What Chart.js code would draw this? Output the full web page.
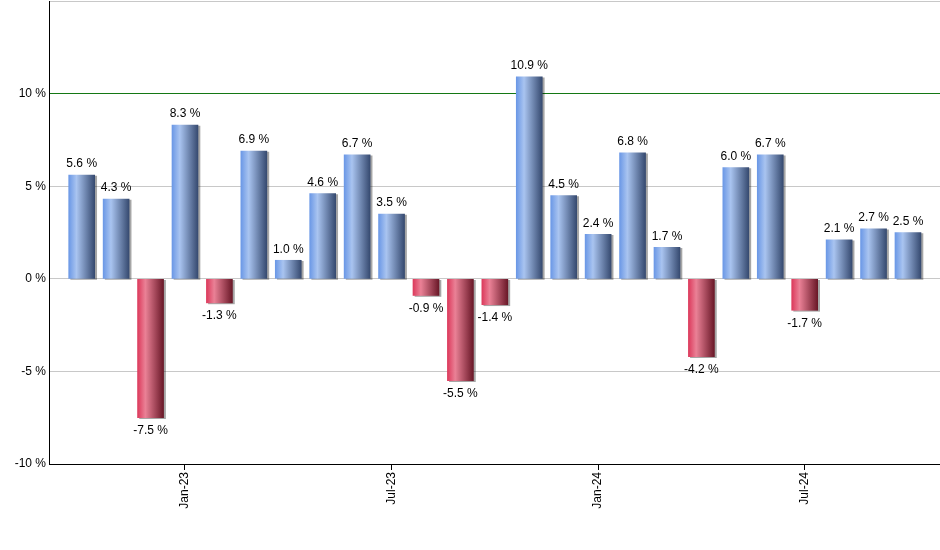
<!DOCTYPE html>
<html>
<head>
<meta charset="utf-8">
<script src="https://cdn.jsdelivr.net/npm/chart.js@4/dist/chart.umd.min.js"></script>
<style>
  html, body { margin: 0; padding: 0; background: #fff; }
  #wrap { width: 940px; height: 550px; }
</style>
</head>
<body>
<div id="wrap"><canvas id="myReturnChart"></canvas></div>
<script>
const months = [
  "Oct-22", "Nov-22", "Dec-22", "Jan-23", "Feb-23", "Mar-23", "Apr-23",
  "May-23", "Jun-23", "Jul-23", "Aug-23", "Sep-23", "Oct-23", "Nov-23",
  "Dec-23", "Jan-24", "Feb-24", "Mar-24", "Apr-24", "May-24", "Jun-24",
  "Jul-24", "Aug-24", "Sep-24", "Oct-24",
];
const returns = [
  5.6, 4.3, -7.5, 8.3, -1.3, 6.9, 1.0, 4.6, 6.7, 3.5, -0.9, -5.5, -1.4,
  10.9, 4.5, 2.4, 6.8, 1.7, -4.2, 6.0, 6.7, -1.7, 2.1, 2.7, 2.5,
];
const tickLabels = ["Jan-23", "Jul-23", "Jan-24", "Jul-24"];
const yTicks = [-10, -5, 0, 5, 10, 15];

const FONT = "Arial, 'Liberation Sans', sans-serif";
const BAR_W = 26;

function barGradient(context) {
  const chart = context.chart;
  const xScale = chart.scales.x;
  const v = returns[context.dataIndex];
  const fallback = v < 0 ? "#c0304f" : "#6f95d8";
  if (!xScale || v === undefined) return fallback;
  const cx = xScale.getPixelForValue(context.dataIndex);
  if (!isFinite(cx)) return fallback;
  const g = chart.ctx.createLinearGradient(cx - BAR_W / 2, 0, cx + BAR_W / 2, 0);
  if (v < 0) {
    g.addColorStop(0, "#dc3a5c");
    g.addColorStop(0.3, "#ea8196");
    g.addColorStop(1, "#6a1828");
  } else {
    g.addColorStop(0, "#6b98e6");
    g.addColorStop(0.3, "#a9c4f0");
    g.addColorStop(1, "#364a70");
  }
  return g;
}

// grey drop shadow on the bars
const barShadow = {
  id: "barShadow",
  beforeDatasetsDraw(chart) {
    const ctx = chart.ctx;
    ctx.save();
    ctx.shadowColor = "rgba(0,0,0,0.35)";
    ctx.shadowOffsetX = 2;
    ctx.shadowOffsetY = 1;
    ctx.shadowBlur = 0;
  },
  afterDatasetsDraw(chart) {
    chart.ctx.restore();
  },
};

// value labels above / below bars
const valueLabels = {
  id: "valueLabels",
  afterDraw(chart) {
    const ctx = chart.ctx;
    const meta = chart.getDatasetMeta(0);
    ctx.save();
    ctx.font = "12px " + FONT;
    ctx.fillStyle = "#000";
    ctx.textAlign = "center";
    meta.data.forEach((bar, i) => {
      const v = returns[i];
      const txt = v.toFixed(1) + " %";
      if (v >= 0) {
        ctx.textBaseline = "bottom";
        ctx.fillText(txt, bar.x, bar.y - 5);
      } else {
        ctx.textBaseline = "top";
        ctx.fillText(txt, bar.x, bar.y + 7);
      }
    });
    ctx.restore();
  },
};

const myReturnChart = document.getElementById("myReturnChart").getContext("2d");
const chart = new Chart(myReturnChart, {
  type: "bar",
  data: {
    datasets: [
      {
        label: "",
        data: returns.map((v, i) => ({ x: i, y: v })),
        backgroundColor: barGradient,
        borderWidth: 0,
        barThickness: BAR_W,
      },
    ],
  },
  options: {
    responsive: true,
    maintainAspectRatio: false,
    animation: false,
    layout: { padding: { top: 1, right: 0, left: 0, bottom: 0 } },
    scales: {
      x: {
        type: "linear",
        offset: false,
        min: -0.95,
        max: 24.93,
        afterBuildTicks(scale) {
          scale.ticks = tickLabels.map((t) => ({ value: months.indexOf(t) }));
        },
        afterFit(scale) {
          scale.height = 86;
          scale.paddingLeft = 0;
          scale.paddingRight = 0;
        },
        ticks: {
          autoSkip: false,
          minRotation: 90,
          maxRotation: 90,
          padding: 2,
          color: "#000",
          font: { family: FONT, size: 12 },
          callback: (value) => months[value],
        },
        grid: {
          offset: false,
          drawOnChartArea: false,
          drawTicks: true,
          tickLength: 6,
          color: "#000",
        },
        border: { display: true, color: "#000", width: 1 },
      },
      y: {
        min: -10,
        max: 15,
        afterBuildTicks(scale) {
          scale.ticks = yTicks.map((v) => ({ value: v }));
        },
        afterFit(scale) {
          scale.width = 49;
          scale.paddingTop = 0;
        },
        ticks: {
          padding: 3,
          color: "#000",
          font: { family: FONT, size: 12 },
          callback: (value) => (value === 15 ? "" : value + " %"),
        },
        grid: {
          drawTicks: false,
          color: (c) => (c.tick && c.tick.value === 10 ? "#147814" : "#c8c8c8"),
          lineWidth: 1,
        },
        border: { display: true, color: "#000", width: 1 },
      },
    },
    plugins: {
      legend: { display: false },
      tooltip: { enabled: false },
    },
  },
  plugins: [barShadow, valueLabels],
});
chart.update();
</script>
</body>
</html>
